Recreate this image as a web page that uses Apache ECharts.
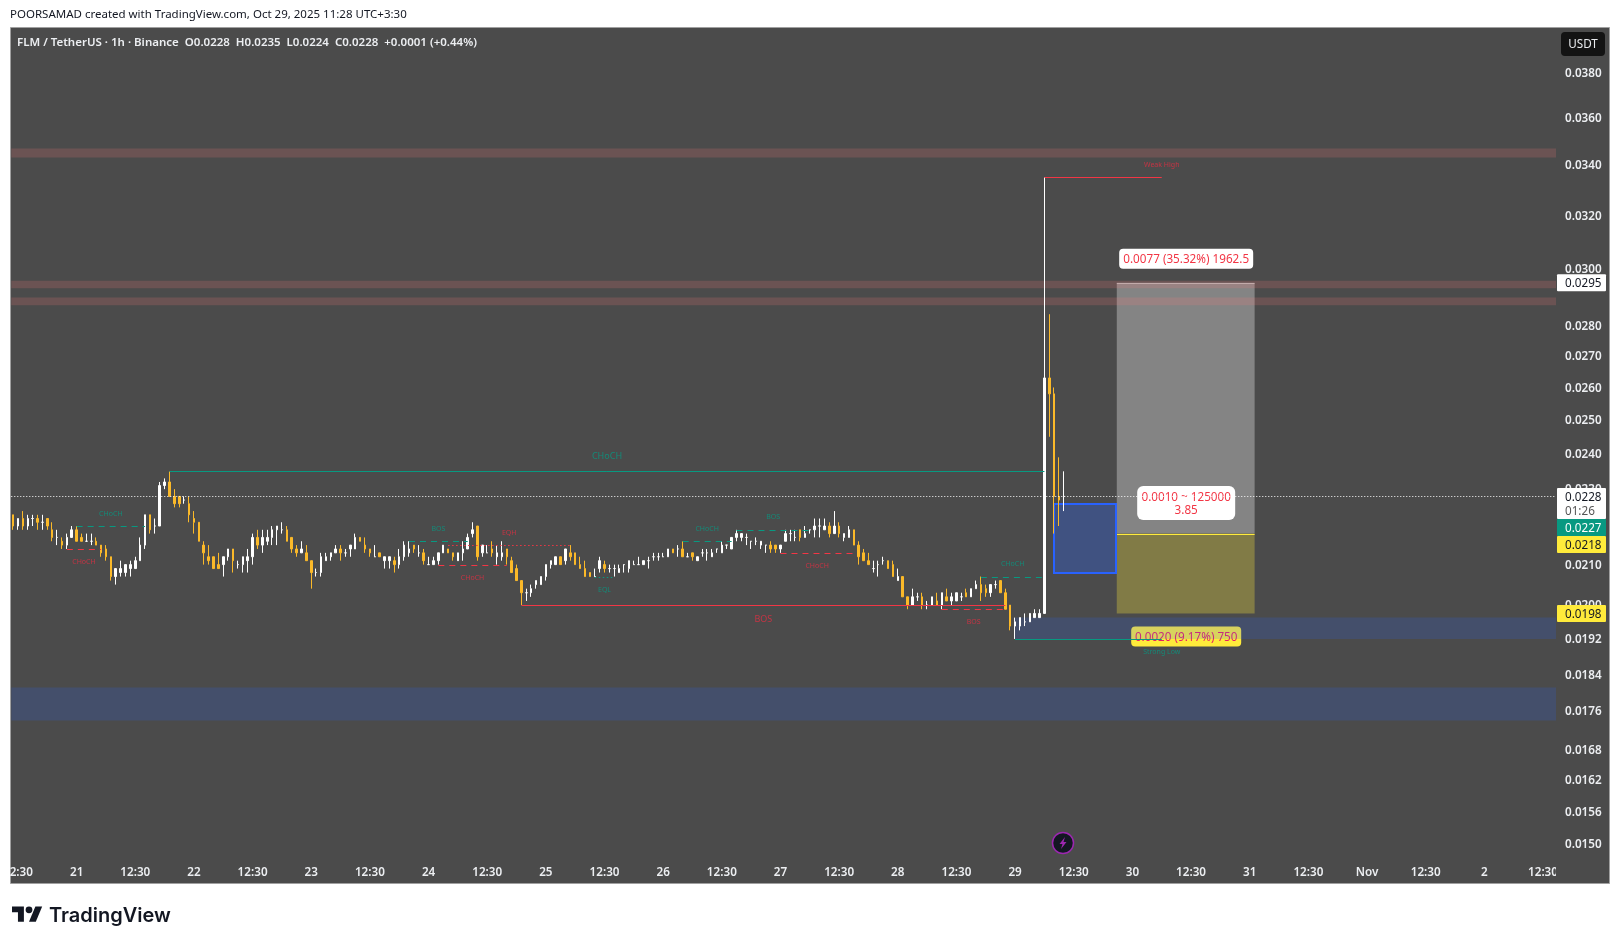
<!DOCTYPE html>
<html>
<head>
<meta charset="utf-8">
<title>FLM / TetherUS</title>
<script src="https://cdn.jsdelivr.net/npm/echarts@6/dist/echarts.min.js"></script>
<style>
html,body{margin:0;padding:0;background:#fff;}
#main{width:1620px;height:944px;}
</style>
</head>
<body>
<div id="main"></div>
<script>
//hourly candles, index 0 is the first bar on screen
var opens = [
.0223,.0220,.0222,.0220,.0222,.0222,.0221,.0222,.0219,.0217,
.0216,.0215,.0217,.0219,.0217,.0216,.0216,.0216,.0215,.0214,
.0212,.0207,.0208,.0208,.0209,.0209,.0211,.0215,.0223,.0220,
.0220,.0231,.0232,.0228,.0228,.0227,.0226,.0222,.0221,.0215,
.0212,.0212,.0210,.0210,.0212,.0214,.0210,.0210,.0211,.0212,
.0217,.0215,.0216,.0217,.0219,.0219,.0219,.0217,.0214,.0213,
.0213,.0211,.0208,.0208,.0211,.0212,.0213,.0214,.0213,.0214,
.0214,.0217,.0215,.0214,.0212,.0213,.0211,.0211,.0211,.0210,
.0212,.0213,.0215,.0213,.0213,.0210,.0210,.0211,.0213,.0214,
.0213,.0211,.0213,.0214,.0218,.0220,.0213,.0213,.0214,.0212,
.0212,.0214,.0211,.0209,.0206,.0203,.0203,.0205,.0205,.0207,
.0210,.0210,.0212,.0211,.0213,.0213,.0210,.0209,.0208,.0207,
.0209,.0210,.0209,.0209,.0208,.0210,.0209,.0210,.0210,.0210,
.0211,.0212,.0212,.0212,.0212,.0214,.0214,.0214,.0212,.0213,
.0211,.0213,.0213,.0212,.0214,.0213,.0215,.0214,.0217,.0217,
.0217,.0216,.0216,.0215,.0215,.0215,.0215,.0214,.0216,.0218,
.0217,.0219,.0217,.0219,.0219,.0220,.0219,.0220,.0218,.0220,
.0217,.0217,.0219,.0215,.0213,.0211,.0209,.0210,.0211,.0211,
.0210,.0206,.0207,.0202,.0200,.0202,.0202,.0200,.0200,.0201,
.0200,.0202,.0201,.0201,.0202,.0203,.0202,.0204,.0205,.0204,
.0203,.0205,.0206,.0203,.0200,.0195,.0195,.0196,.0196,.0197,
.0197,.0198,.0263,.0258,.0228,.0228
];
var closes = [
.0220,.0222,.0220,.0222,.0222,.0221,.0221,.0220,.0217,.0217,
.0215,.0217,.0219,.0216,.0216,.0216,.0216,.0215,.0213,.0212,
.0207,.0209,.0209,.0210,.0210,.0211,.0215,.0223,.0219,.0220,
.0231,.0232,.0228,.0226,.0226,.0227,.0223,.0221,.0216,.0213,
.0211,.0209,.0209,.0212,.0214,.0211,.0210,.0212,.0212,.0217,
.0215,.0217,.0217,.0219,.0220,.0219,.0216,.0214,.0213,.0214,
.0211,.0208,.0208,.0212,.0212,.0213,.0214,.0213,.0213,.0215,
.0217,.0216,.0214,.0213,.0212,.0212,.0212,.0212,.0210,.0212,
.0215,.0214,.0214,.0213,.0211,.0210,.0211,.0213,.0215,.0213,
.0212,.0213,.0214,.0217,.0219,.0212,.0215,.0213,.0213,.0213,
.0213,.0212,.0208,.0206,.0203,.0203,.0204,.0206,.0207,.0210,
.0211,.0212,.0210,.0214,.0212,.0210,.0209,.0207,.0207,.0207,
.0211,.0209,.0209,.0209,.0209,.0210,.0211,.0210,.0210,.0211,
.0211,.0212,.0212,.0212,.0214,.0213,.0214,.0212,.0212,.0212,
.0212,.0213,.0213,.0213,.0214,.0215,.0215,.0217,.0218,.0218,
.0217,.0216,.0216,.0216,.0215,.0214,.0214,.0215,.0218,.0218,
.0217,.0217,.0218,.0219,.0220,.0220,.0220,.0218,.0220,.0218,
.0218,.0219,.0215,.0212,.0211,.0210,.0209,.0210,.0211,.0209,
.0207,.0207,.0202,.0200,.0202,.0202,.0200,.0200,.0202,.0200,
.0203,.0201,.0202,.0203,.0202,.0202,.0204,.0205,.0203,.0203,
.0205,.0205,.0203,.0199,.0195,.0196,.0197,.0196,.0198,.0198,
.0198,.0263,.0258,.0228,.0227,.0228
];
var lows = [
.0219,.0219,.0219,.0219,.0220,.0219,.0219,.0219,.0216,.0215,
.0214,.0214,.0217,.0216,.0216,.0216,.0215,.0215,.0212,.0211,
.0206,.0205,.0207,.0207,.0207,.0209,.0211,.0214,.0218,.0218,
.0220,.0230,.0228,.0225,.0225,.0226,.0221,.0218,.0216,.0210,
.0210,.0209,.0209,.0207,.0211,.0208,.0209,.0208,.0208,.0210,
.0214,.0213,.0215,.0215,.0215,.0218,.0216,.0213,.0212,.0213,
.0211,.0204,.0207,.0207,.0211,.0211,.0213,.0211,.0212,.0212,
.0214,.0216,.0213,.0212,.0212,.0212,.0209,.0209,.0208,.0209,
.0211,.0212,.0213,.0212,.0210,.0210,.0210,.0210,.0213,.0213,
.0211,.0211,.0211,.0214,.0217,.0211,.0212,.0213,.0212,.0210,
.0211,.0210,.0208,.0206,.0200,.0201,.0202,.0204,.0205,.0206,
.0209,.0210,.0210,.0210,.0211,.0210,.0209,.0207,.0207,.0207,
.0208,.0208,.0208,.0207,.0208,.0208,.0208,.0210,.0210,.0210,
.0209,.0211,.0211,.0212,.0212,.0213,.0212,.0212,.0212,.0211,
.0211,.0212,.0211,.0212,.0213,.0213,.0214,.0214,.0216,.0216,
.0215,.0214,.0215,.0214,.0213,.0213,.0213,.0213,.0216,.0216,
.0216,.0216,.0217,.0218,.0217,.0217,.0219,.0217,.0218,.0217,
.0216,.0217,.0215,.0210,.0211,.0210,.0208,.0207,.0210,.0209,
.0207,.0206,.0202,.0199,.0200,.0201,.0199,.0199,.0200,.0200,
.0199,.0201,.0200,.0201,.0201,.0202,.0202,.0204,.0201,.0202,
.0202,.0204,.0203,.0199,.0194,.0192,.0194,.0195,.0196,.0197,
.0197,.0198,.0245,.0218,.0220,.0224
];
var highs = [
.0223,.0222,.0224,.0223,.0223,.0223,.0223,.0222,.0221,.0219,
.0217,.0218,.0220,.0220,.0218,.0218,.0218,.0217,.0215,.0215,
.0212,.0209,.0211,.0210,.0211,.0212,.0217,.0223,.0223,.0222,
.0232,.0233,.0235,.0230,.0228,.0228,.0228,.0224,.0221,.0216,
.0215,.0212,.0213,.0212,.0214,.0214,.0211,.0212,.0214,.0218,
.0219,.0219,.0219,.0220,.0220,.0221,.0220,.0217,.0215,.0216,
.0215,.0211,.0209,.0213,.0213,.0213,.0215,.0215,.0214,.0215,
.0218,.0217,.0217,.0214,.0215,.0213,.0212,.0212,.0212,.0214,
.0216,.0216,.0215,.0215,.0214,.0212,.0212,.0213,.0215,.0214,
.0213,.0213,.0216,.0218,.0221,.0220,.0215,.0215,.0216,.0215,
.0216,.0214,.0212,.0210,.0206,.0204,.0205,.0206,.0207,.0210,
.0211,.0212,.0212,.0214,.0215,.0213,.0212,.0211,.0208,.0209,
.0212,.0211,.0210,.0210,.0210,.0210,.0211,.0211,.0212,.0211,
.0212,.0213,.0213,.0213,.0214,.0214,.0215,.0216,.0213,.0213,
.0212,.0214,.0214,.0214,.0214,.0216,.0215,.0217,.0219,.0218,
.0218,.0216,.0217,.0216,.0215,.0216,.0215,.0215,.0219,.0219,
.0219,.0219,.0220,.0219,.0222,.0222,.0222,.0221,.0224,.0221,
.0218,.0220,.0219,.0216,.0214,.0213,.0211,.0211,.0212,.0211,
.0211,.0209,.0207,.0202,.0204,.0203,.0203,.0201,.0202,.0203,
.0203,.0204,.0203,.0203,.0203,.0204,.0204,.0206,.0207,.0205,
.0205,.0206,.0206,.0204,.0200,.0197,.0197,.0198,.0198,.0199,
.0199,.0335,.0284,.0260,.0239,.0235
];

//axis labels
var timeLabels = ['12:30','21','12:30','22','12:30','23','12:30','24','12:30','25','12:30','26','12:30','27','12:30','28','12:30','29','12:30','30','12:30','31','12:30','Nov','12:30','2','12:30'];
var timeTicks = [1,13,25,37,49,61,73,85,97,109,121,133,145,157,169,181,193,205,217,229,241,253,265,277,289,301,313];
var priceTicks = [0.0380,0.0360,0.0340,0.0320,0.0300,0.0280,0.0270,0.0260,0.0250,0.0240,0.0230,0.0220,0.0210,0.0200,0.0192,0.0184,0.0176,0.0168,0.0162,0.0156,0.0150];

//visible range of the pane, in bars
var barMin = -0.368, barMax = 315.66;

//supply and demand zones
var zoneHigh = [0.03468,0.02957,0.02898,0.0197,0.01811];
var zoneLow = [0.03431,0.02930,0.02871,0.0192,0.01740];
var zoneFrom = [barMin,barMin,barMin,205,barMin];
var zoneTint = ['supply','supply','supply','demand','demand'];

//market structure lines
var lineFrom = [32,104,13,11,81,89,87,119,137,148,157,190,198,211,205];
var lineTo = [211,203,27,18,93,114,101,123,147,163,172,203,211,235,235];
var linePrice = [0.0235,0.0200,0.0220,0.0214,0.0216,0.0215,0.0210,0.0207,0.0216,0.0219,0.0213,0.0199,0.0207,0.0335,0.0192];
var lineText = ['CHoCH','BOS','CHoCH','CHoCH','BOS','EQH','CHoCH','EQL','CHoCH','BOS','CHoCH','BOS','CHoCH','Weak High','Strong Low'];
var lineBull = [1,0,1,0,1,0,0,1,1,1,0,0,1,0,1];
var lineKind = ['major','major','dash','dash','dash','dot','dash','dot','dash','dash','dash','dash','dash','swing','swing'];

//long position tool
var toolFrom = 225.8, toolTo = 254, toolMid = 240;
var targetPrice = 0.0295, entryPrice = 0.0218, stopPrice = 0.0198;
var targetText = '0.0077 (35.32%) 1962.5';
var middleText = '0.0010 ~ 125000\n3.85';
var stopText = '0.0020 (9.17%) 750';
var boxFrom = 213, boxTo = 225.6, boxHigh = 0.0226, boxLow = 0.0208;

var lastPrice = 0.0228;
var countdown = '01:26';
var stackedTags = ['0.0227','0.0218'];

var FONT = '"Noto Sans", sans-serif';
var TEXT_FONT = '11.7px ' + FONT;
var BG = '#4b4b4b', GREEN = '#089981', RED = '#f23645', YELLOW = '#ffeb3b';

function crisp(v){
	return Math.round(v) + 0.5;
}

var candleData = opens.map(function(o, i){
	return [i, o, closes[i], lows[i], highs[i]];
});

var renderBoxes = function(params, api){
	var l = api.coord([toolFrom, targetPrice]), r = api.coord([toolTo, entryPrice]), s = api.coord([toolTo, stopPrice]);
	var b1 = api.coord([boxFrom, boxHigh]), b2 = api.coord([boxTo, boxLow]);
	var mid = api.coord([toolMid, stopPrice]);
	var bx = Math.round(b1[0]), by = Math.round(b1[1]);
	return {type: 'group', children: [
		{type: 'rect', shape: {x: l[0], y: l[1], width: r[0] - l[0], height: r[1] - l[1]}, style: {fill: 'rgba(255,255,255,0.32)'}},
		{type: 'rect', shape: {x: l[0], y: r[1], width: r[0] - l[0], height: s[1] - r[1]}, style: {fill: 'rgba(255,235,59,0.3)'}},
		{type: 'line', shape: {x1: l[0], y1: crisp(l[1]), x2: r[0], y2: crisp(l[1])}, style: {stroke: 'rgba(255,255,255,0.4)', lineWidth: 1}},
		{type: 'line', shape: {x1: l[0], y1: crisp(r[1]), x2: r[0], y2: crisp(r[1])}, style: {stroke: YELLOW, lineWidth: 1}},
		{type: 'rect', shape: {x: bx, y: by, width: Math.round(b2[0]) - bx, height: Math.round(b2[1]) - by}, style: {fill: 'rgba(41,98,255,0.3)', stroke: '#2962ff', lineWidth: 2}},
		{type: 'rect', shape: {x: mid[0] - 55, y: mid[1] + 13, width: 110, height: 20, r: 4}, style: {fill: YELLOW}},
		{type: 'text', style: {x: mid[0], y: mid[1] + 24, text: stopText, fill: '#e91e63', font: TEXT_FONT, align: 'center', verticalAlign: 'middle'}}
	]};
};

var renderZone = function(params, api){
	var a = api.coord([api.value(0), api.value(1)]), b = api.coord([barMax, api.value(2)]);
	var fill = zoneTint[params.dataIndex] == 'supply' ? 'rgba(255,120,120,0.18)' : 'rgba(41,98,255,0.18)';
	return {type: 'rect', shape: {x: a[0], y: a[1], width: b[0] - a[0], height: b[1] - a[1]}, style: {fill: fill}};
};

var renderLine = function(params, api){
	var i = params.dataIndex, kind = lineKind[i], text = lineText[i], bull = lineBull[i];
	var a = api.coord([api.value(0), api.value(2)]), b = api.coord([api.value(1), api.value(2)]);
	var dash = kind == 'dash' ? [6, 5] : (kind == 'dot' ? [1.5, 2.5] : null);
	var up = text == 'EQH' || text == 'Weak High' || (bull && text != 'EQL' && text != 'Strong Low');
	var at = kind == 'swing' ? b[0] : (a[0] + b[0]) / 2;
	var gap = kind == 'major' ? (bull ? 15.5 : 14) : (up ? 13 : 12.5);
	var size = kind == 'major' ? 9 : 7;
	return {type: 'group', children: [
		{type: 'line', shape: {x1: a[0], y1: crisp(a[1]), x2: b[0], y2: crisp(a[1])}, style: {stroke: bull ? GREEN : RED, lineWidth: 1, lineDash: dash}},
		{type: 'text', style: {x: at, y: a[1] + (up ? -gap : gap) + 0.5, text: text, fill: bull ? '#148a78' : '#c53444', font: size + 'px ' + FONT, align: 'center', verticalAlign: 'middle'}}
	]};
};

var renderLabels = function(params, api){
	var top = api.coord([toolMid, targetPrice]), mid = api.coord([toolMid, entryPrice]);
	return {type: 'group', children: [
		{type: 'rect', shape: {x: top[0] - 67, y: top[1] - 34, width: 134, height: 20, r: 4}, style: {fill: '#fff'}},
		{type: 'text', style: {x: top[0], y: top[1] - 23.5, text: targetText, fill: RED, font: TEXT_FONT, align: 'center', verticalAlign: 'middle'}},
		{type: 'rect', shape: {x: mid[0] - 49, y: mid[1] - 47.5, width: 98, height: 34, r: 6}, style: {fill: '#fff'}},
		{type: 'text', style: {x: mid[0], y: mid[1] - 29.5, text: middleText, fill: RED, font: TEXT_FONT, lineHeight: 13, align: 'center', verticalAlign: 'middle'}}
	]};
};

//a tag on the price scale, x is the pane's right edge
var tag = function(x, y, h, fill, color, text){
	return [
		{type: 'rect', shape: {x: x + 1, y: y - h / 2, width: 49, height: h, r: 1}, style: {fill: fill}},
		{type: 'text', style: {x: x + 9, y: y + 1, text: text, fill: color, font: TEXT_FONT, verticalAlign: 'middle'}}
	];
};

var renderTags = function(params, api){
	var x = api.coord([barMax, lastPrice])[0];
	var last = api.coord([barMax, lastPrice])[1], target = api.coord([barMax, targetPrice])[1], stop = api.coord([barMax, stopPrice])[1];
	var kids = [
		{type: 'line', shape: {x1: api.coord([barMin, lastPrice])[0], y1: crisp(last), x2: x, y2: crisp(last)}, style: {stroke: '#fff', lineWidth: 1, lineDash: [1, 2]}}
	];
	kids = kids.concat(tag(x, target, 17, '#fff', '#131722', targetPrice.toFixed(4)));
	kids = kids.concat(tag(x, stop, 17, YELLOW, '#131722', stopPrice.toFixed(4)));
	kids = kids.concat(tag(x, last + 7, 31, '#fff', '#131722', ''));
	kids.push({type: 'text', style: {x: x + 9, y: last + 1, text: lastPrice.toFixed(4), fill: '#131722', font: TEXT_FONT, verticalAlign: 'middle'}});
	kids.push({type: 'text', style: {x: x + 9, y: last + 15, text: countdown, fill: '#555', font: TEXT_FONT, verticalAlign: 'middle'}});
	kids = kids.concat(tag(x, last + 31, 17, GREEN, '#fff', stackedTags[0]));
	kids = kids.concat(tag(x, last + 48, 17, YELLOW, '#131722', stackedTags[1]));
	return {type: 'group', children: kids};
};

var chart = echarts.init(document.getElementById('main'), null, {renderer: 'canvas'});
chart.setOption({
	animation: false,
	backgroundColor: '#fff',
	grid: {left: 10, top: 27.7, width: 1546, height: 856, containLabel: false},
	xAxis: {
		type: 'value', min: barMin, max: barMax, position: 'bottom',
		axisLine: {show: false}, axisTick: {show: false}, splitLine: {show: false},
		axisLabel: {
			inside: true, margin: 5, color: '#eceef1', fontFamily: FONT, fontSize: 11.7, fontWeight: 600,
			customValues: timeTicks,
			formatter: function(v){ return timeLabels[timeTicks.indexOf(v)]; }
		}
	},
	yAxis: {
		type: 'log', logBase: 10, min: 0.014294, max: 0.040118, position: 'right',
		axisLine: {show: false}, axisTick: {show: false}, splitLine: {show: false},
		axisLabel: {
			margin: 9, color: '#eceef1', fontFamily: FONT, fontSize: 11.7, fontWeight: 600,
			customValues: priceTicks,
			rich: {p: {color: '#eceef1', fontFamily: FONT, fontSize: 11.7, fontWeight: 600, padding: [2, 0, 0, 0]}},
			formatter: function(v){ return '{p|' + Number(v).toFixed(4) + '}'; }
		}
	},
	title: [
		{text: 'POORSAMAD created with TradingView.com, Oct 29, 2025 11:28 UTC+3:30', left: 10, top: 9, padding: 0,
			textStyle: {color: '#131722', fontFamily: FONT, fontSize: 11.5, fontWeight: 'normal'}},
		{text: 'FLM / TetherUS · 1h · Binance  O0.0228  H0.0235  L0.0224  C0.0228  +0.0001 (+0.44%)', left: 17, top: 37, padding: 0,
			textStyle: {color: '#eceef1', fontFamily: FONT, fontSize: 11.5, fontWeight: 600}}
	],
	graphic: [
		{type: 'rect', z: -10, shape: {x: 10.5, y: 27.5, width: 1599, height: 856}, style: {fill: BG, stroke: '#a0a0a0', lineWidth: 1}},
		{type: 'rect', z: 50, shape: {x: 0, y: 850, width: 10, height: 34}, style: {fill: '#fff'}},
		{type: 'rect', z: 50, shape: {x: 1556, y: 858, width: 40, height: 24}, style: {fill: BG}},
		{type: 'rect', z: 50, shape: {x: 1561, y: 32, width: 44, height: 24, r: 4}, style: {fill: '#131313'}},
		{type: 'text', z: 51, style: {x: 1583, y: 45, text: 'USDT', fill: '#e9ebee', font: TEXT_FONT, align: 'center', verticalAlign: 'middle'}},
		{type: 'circle', z: 50, shape: {cx: 1063, cy: 843, r: 10.5}, style: {fill: '#131722', stroke: '#9c27b0', lineWidth: 1.5}},
		{type: 'polygon', z: 51, shape: {points: [[1065, 837], [1059.5, 844], [1062.5, 844], [1061, 849], [1066.5, 842], [1063.5, 842]]}, style: {fill: '#9c27b0'}},
		//TradingView mark
		{type: 'polygon', z: 50, x: 12, y: 903, scaleX: 0.85, scaleY: 0.85,
			shape: {points: [[14, 22], [7, 22], [7, 11], [0, 11], [0, 4], [14, 4]]}, style: {fill: '#131722'}},
		{type: 'polygon', z: 50, x: 12, y: 903, scaleX: 0.85, scaleY: 0.85,
			shape: {points: [[28, 22], [20, 22], [27.5, 4], [35.5, 4]]}, style: {fill: '#131722'}},
		{type: 'circle', z: 50, x: 12, y: 903, scaleX: 0.85, scaleY: 0.85, shape: {cx: 20, cy: 8, r: 4}, style: {fill: '#131722'}},
		{type: 'text', z: 50, style: {x: 49, y: 916, text: 'TradingView', fill: '#131722', font: '600 20px Inter, sans-serif', verticalAlign: 'middle'}}
	],
	series: [
		{type: 'custom', name: 'tool', z: 1, clip: false, silent: true, data: [[toolFrom, targetPrice]], renderItem: renderBoxes},
		{type: 'custom', name: 'zones', z: 2, clip: false, silent: true,
			data: zoneHigh.map(function(h, i){ return [zoneFrom[i], h, zoneLow[i]]; }),
			encode: {x: 0, y: [1, 2]}, renderItem: renderZone},
		{type: 'candlestick', name: 'FLM', z: 3, silent: true, barWidth: 2, data: candleData,
			encode: {x: 0, y: [1, 2, 3, 4]},
			itemStyle: {color: '#ffffff', color0: '#fbb929', borderColor: '#ffffff', borderColor0: '#fbb929', borderColorDoji: '#ffffff', borderWidth: 1}},
		{type: 'custom', name: 'structure', z: 4, clip: false, silent: true,
			data: lineFrom.map(function(f, i){ return [f, lineTo[i], linePrice[i]]; }),
			encode: {x: [0, 1], y: 2}, renderItem: renderLine},
		{type: 'custom', name: 'labels', z: 5, clip: false, silent: true, data: [[toolMid, entryPrice]], renderItem: renderLabels},
		{type: 'custom', name: 'tags', z: 6, clip: false, silent: true, data: [[barMax, lastPrice]], renderItem: renderTags}
	]
});
</script>
</body>
</html>
